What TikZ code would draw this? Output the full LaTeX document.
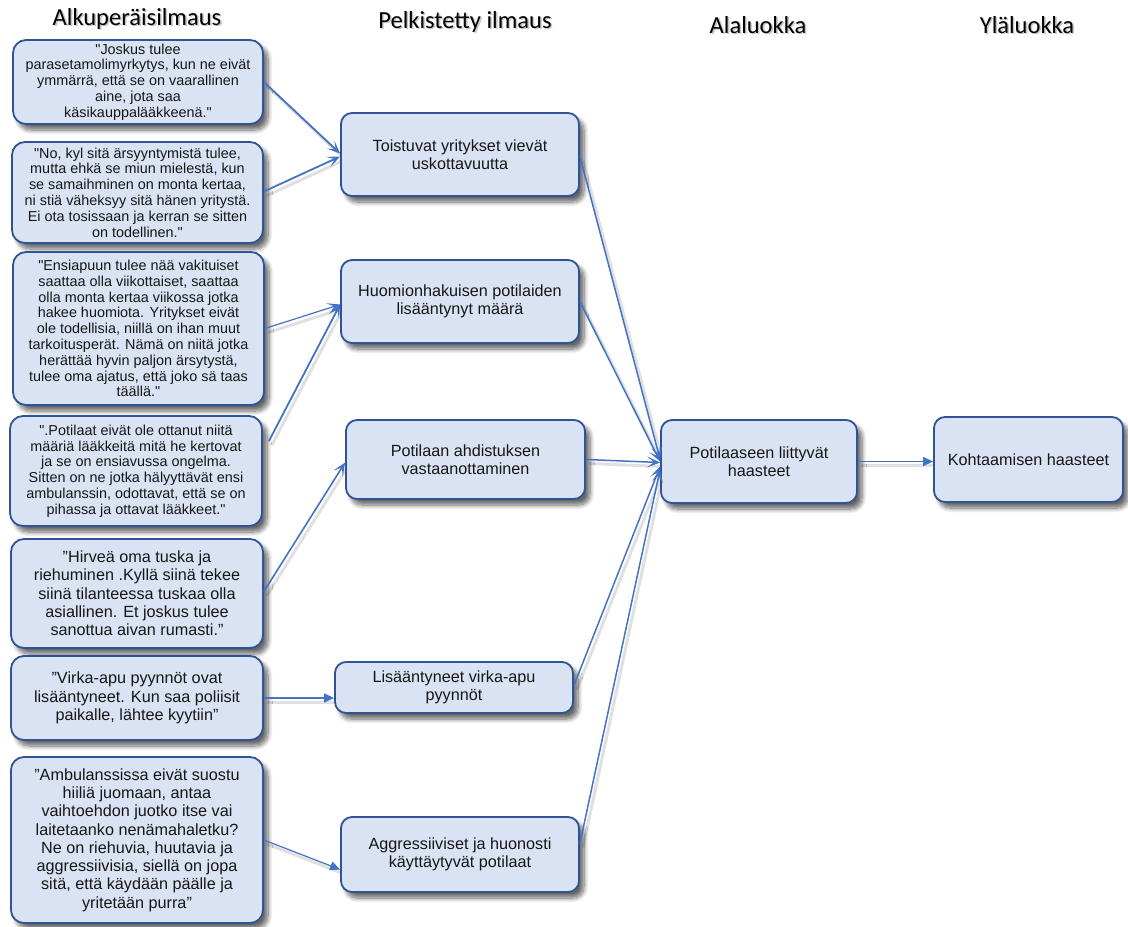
\documentclass[tikz,border=0pt]{standalone}
\usepackage{fontspec}
\setmainfont{Liberation Sans}
% box text family without the TeX quote mapping, so " stays a straight quote
\newfontfamily\boxfont{Liberation Sans}
\newfontfamily\headfont{Carlito}
\usetikzlibrary{arrows.meta,calc,shadows.blur}
\definecolor{boxfill}{RGB}{218,227,243}
\definecolor{boxline}{RGB}{47,84,150}
\definecolor{linkblue}{RGB}{68,114,196}
\definecolor{inkdark}{RGB}{22,22,22}
\pgfdeclarelayer{background}
\pgfsetlayers{background,main}

% heading text with a soft grey offset copy behind it
\newcommand\softshade[1]{\leavevmode\rlap{\kern1.6pt\raisebox{-1.8pt}{\textcolor{black!22}{#1}}}#1}

\tikzset{
  basebox/.style={draw=boxline, line width=1.8pt, fill=boxfill, inner sep=0pt,
    align=center, text=inkdark,
    blur shadow={shadow xshift=5pt, shadow yshift=-6pt, shadow blur steps=8,
      shadow blur radius=4.5pt, shadow opacity=60}},
  quotebox/.style={basebox, rounded corners=13pt},
  quotesmall/.style={quotebox, font=\boxfont\fontsize{14.4}{15.8}\selectfont},
  quotelarge/.style={quotebox, font=\boxfont\fontsize{16.2}{18.3}\selectfont},
  catbox/.style={basebox, rounded corners=11pt, font=\boxfont\fontsize{16.2}{18.3}\selectfont},
  headtxt/.style={anchor=base, font=\headfont\fontsize{24.5}{28}\selectfont, text=black, inner sep=0pt},
  conn/.style={draw=linkblue, line width=1.8pt, -{Stealth[length=13pt,width=11pt,inset=7pt]}},
  tri/.style={-{Triangle[length=10pt,width=9pt]}},
  linkshade/.style={draw=black!12, line width=3pt,
    transform canvas={xshift=3pt,yshift=-4pt}},
}

% connector plus its soft shadow underneath everything
\newcommand\linkpath[2][]{%
  \begin{pgfonlayer}{background}\draw[linkshade] #2;\end{pgfonlayer}
  \draw[conn,#1] #2;}

\begin{document}
\begin{tikzpicture}[x=1pt,y=-1pt]
\useasboundingbox (0,0) rectangle (1128,927);

% column headings
\node[headtxt] (h1) at (137,25) {\softshade{Alkuperäisilmaus}};
\node[headtxt] (h2) at (465,28) {\softshade{Pelkistetty ilmaus}};
\node[headtxt] (h3) at (758,33) {\softshade{Alaluokka}};
\node[headtxt] (h4) at (1027,33) {\softshade{Yläluokka}};

% original expressions
\node[quotesmall, minimum width=250pt, minimum height=84pt] (q1) at (138,82)
  {"Joskus tulee\\parasetamolimyrkytys, kun ne eivät\\ymmärrä, että se on vaarallinen\\aine, jota saa\\käsikauppalääkkeenä."};
\node[quotesmall, minimum width=251pt, minimum height=101pt] (q2) at (137.5,192.5)
  {"No, kyl sitä ärsyyntymistä tulee,\\mutta ehkä se miun mielestä, kun\\se samaihminen on monta kertaa,\\ni stiä väheksyy sitä hänen yritystä.\\Ei ota tosissaan ja kerran se sitten\\on todellinen."};
\node[quotesmall, minimum width=251pt, minimum height=153pt] (q3) at (138.5,328.5)
  {"Ensiapuun tulee nää vakituiset\\saattaa olla viikottaiset, saattaa\\olla monta kertaa viikossa jotka\\hakee huomiota. Yritykset eivät\\ole todellisia, niillä on ihan muut\\tarkoitusperät. Nämä on niitä jotka\\herättää hyvin paljon ärsytystä,\\tulee oma ajatus, että joko sä taas\\täällä."};
\node[quotesmall, minimum width=252pt, minimum height=110pt] (q4) at (136,471)
  {".Potilaat eivät ole ottanut niitä\\määriä lääkkeitä mitä he kertovat\\ja se on ensiavussa ongelma.\\Sitten on ne jotka hälyyttävät ensi\\ambulanssin, odottavat, että se on\\pihassa ja ottavat lääkkeet."};
\node[quotelarge, minimum width=252pt, minimum height=109pt] (q5) at (137,593.5)
  {”Hirveä oma tuska ja\\riehuminen .Kyllä siinä tekee\\siinä tilanteessa tuskaa olla\\asiallinen. Et joskus tulee\\sanottua aivan rumasti.”};
\node[quotelarge, minimum width=252pt, minimum height=84pt] (q6) at (137,698)
  {”Virka-apu pyynnöt ovat\\lisääntyneet. Kun saa poliisit\\paikalle, lähtee kyytiin”};
\node[quotelarge, minimum width=252pt, minimum height=166pt] (q7) at (137,840)
  {”Ambulanssissa eivät suostu\\hiiliä juomaan, antaa\\vaihtoehdon juotko itse vai\\laitetaanko nenämahaletku?\\Ne on riehuvia, huutavia ja\\aggressiivisia, siellä on jopa\\sitä, että käydään päälle ja\\yritetään purra”};

% reduced expressions
\node[catbox, minimum width=238pt, minimum height=83pt] (m1) at (460,154.5)
  {Toistuvat yritykset vievät\\uskottavuutta};
\node[catbox, minimum width=238pt, minimum height=83pt] (m2) at (460,301.5)
  {Huomionhakuisen potilaiden\\lisääntynyt määrä};
\node[catbox, minimum width=239pt, minimum height=79pt] (m3) at (465.5,459.5)
  {Potilaan ahdistuksen\\vastaanottaminen};
\node[catbox, minimum width=238pt, minimum height=51pt] (m4) at (454,687.5)
  {Lisääntyneet virka-apu\\pyynnöt};
\node[catbox, minimum width=238pt, minimum height=75pt] (m5) at (460,854.5)
  {Aggressiiviset ja huonosti\\käyttäytyvät potilaat};

% subcategory and main category
\node[catbox, minimum width=196pt, minimum height=83pt] (sub) at (759,461.5)
  {Potilaaseen liittyvät\\haasteet};
\node[catbox, minimum width=189pt, minimum height=85pt] (top) at (1028.5,459.5)
  {Kohtaamisen haasteet};

% quotes to reduced expressions
\linkpath{(q1.east) -- ([yshift=1pt]m1.west)}
\linkpath{([yshift=1pt]q2.east) -- ([yshift=-2pt]m1.west)}
\linkpath[line width=1.2pt]{(q3.east) -- ([yshift=-3pt]m2.west)}
\linkpath{($(q4.north east)+(6,26)$) -- ([yshift=-3pt]m2.west)}
\linkpath[line width=1.6pt]{([yshift=2pt]q5.east) -- ([yshift=-3pt]m3.west)}
\linkpath[line width=1.2pt,tri]{(q6.east) -- (q6.east -| m4.west)}
\linkpath[line width=1.2pt,tri]{(q7.east) -- ([yshift=-15pt]m5.west)}

% reduced expressions to subcategory
\linkpath[line width=1.5pt]{([yshift=-2pt]m1.east) -- ([yshift=2pt]sub.west)}
\linkpath[line width=1.5pt]{(m2.east) -- (sub.west)}
\linkpath[line width=1.5pt]{(m3.east) -- ([yshift=-1pt]sub.west)}
\linkpath[line width=1.5pt]{([yshift=2pt]m4.east) -- ([yshift=-5pt]sub.west)}
\linkpath[line width=1.5pt]{([yshift=11pt]m5.east) -- ([yshift=-8pt]sub.west)}

% subcategory to main category
\linkpath[line width=1.2pt,tri]{(sub.east) -- (sub.east -| top.west)}
\end{tikzpicture}
\end{document}
